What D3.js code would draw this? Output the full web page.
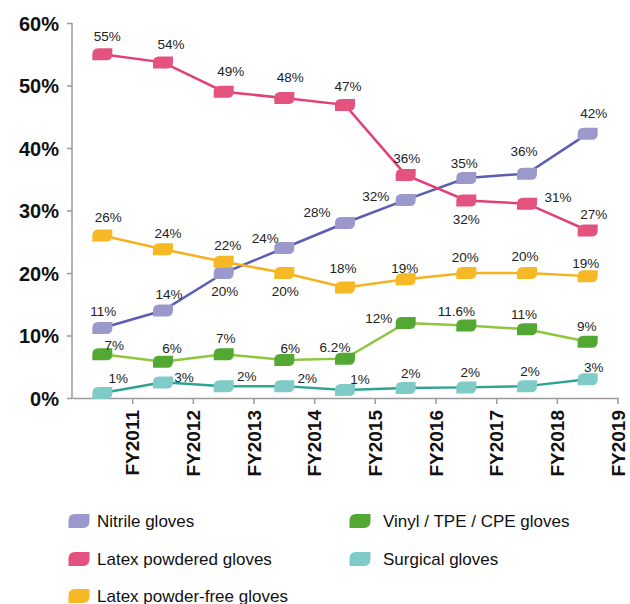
<!DOCTYPE html>
<html><head><meta charset="utf-8">
<script src="https://cdn.jsdelivr.net/npm/d3@7"></script>
<style>body{margin:0;background:#fff}svg{display:block;font-family:"Liberation Sans",Arial,sans-serif}</style>
</head><body><svg id="c" width="630" height="604"></svg>
<script>
const years = ["FY2011","FY2012","FY2013","FY2014","FY2015","FY2016","FY2017","FY2018","FY2019"];
const yTicks = [0,10,20,30,40,50,60];
const seriesNames = ["Nitrile gloves","Latex powdered gloves","Latex powder-free gloves","Vinyl / TPE / CPE gloves","Surgical gloves"];
const nitrile = [11.2,14,20,24,28,31.7,35.2,35.9,42.3];
const latexPowdered = [55,53.7,49,48,46.9,35.7,31.6,31.1,26.8];
const latexPowderFree = [26,23.8,21.8,20,17.7,19,20,20,19.5];
const vinyl = [7,5.8,7,6.1,6.3,12,11.6,11,9];
const surgical = [0.8,2.5,1.9,1.9,1.3,1.6,1.7,1.9,3];
const nitrileLabels = ["11%","14%","20%","24%","28%","32%","35%","36%","42%"];
const latexPowderedLabels = ["55%","54%","49%","48%","47%","36%","32%","31%","27%"];
const latexPowderFreeLabels = ["26%","24%","22%","20%","18%","19%","20%","20%","19%"];
const vinylLabels = ["7%","6%","7%","6%","6.2%","12%","11.6%","11%","9%"];
const surgicalLabels = ["1%","3%","2%","2%","1%","2%","2%","2%","3%"];

// layout: label offsets relative to marker [dx, dy]
const offsets = {
  nitrile: [[1,-17],[6,-16],[1,18],[-19,-10],[-28,-11],[-30,-4],[-2,-15],[-3,-22],[6,-20]],
  latexPowdered: [[5,-18],[8,-18],[7,-20],[6,-21],[3,-19],[1,-17],[0,19],[31,-6],[6,-16]],
  latexPowderFree: [[6,-18],[5,-16],[4,-16],[1,18],[-2,-19],[-1,-11],[-1,-16],[-2,-17],[-2,-13]],
  vinyl: [[12,-9],[9,-13],[2,-16],[6,-12],[-10,-11],[-27,-5],[-10,-14],[-3,-15],[-1,-15]],
  surgical: [[16,-15],[21,-5],[23,-10],[23,-8],[15,-11],[5,-15],[4,-15],[3,-15],[6,-12]]
};

const series = [
  {key:"nitrile", name:seriesNames[0], values:nitrile, labels:nitrileLabels, marker:"#9b98cb", line:"#5a5db2"},
  {key:"latexPowdered", name:seriesNames[1], values:latexPowdered, labels:latexPowderedLabels, marker:"#e4527f", line:"#e2407a"},
  {key:"latexPowderFree", name:seriesNames[2], values:latexPowderFree, labels:latexPowderFreeLabels, marker:"#f6b824", line:"#f5b21f"},
  {key:"vinyl", name:seriesNames[3], values:vinyl, labels:vinylLabels, marker:"#53a833", line:"#8dc63f"},
  {key:"surgical", name:seriesNames[4], values:surgical, labels:surgicalLabels, marker:"#7fcbc8", line:"#2ea394"}
];

const svg = d3.select("#c");
const x0 = 72, x1 = 618, yTop = 23, yBot = 398;
const x = d3.scaleBand().domain(years).range([x0, x1]);
const y = d3.scaleLinear().domain([0,60]).range([yBot, yTop]);
const cx = d => x(d) + x.bandwidth()/2;

// axes
const yAxis = svg.append("g").attr("transform",`translate(${x0},0)`)
  .call(d3.axisLeft(y).tickValues(yTicks).tickSize(5).tickFormat(d=>d+"%"));
yAxis.select(".domain").attr("stroke","#9a9a9a").attr("stroke-width",1.5).attr("d",`M0,${yTop}V${yBot}`);
yAxis.selectAll(".tick line").attr("stroke","#9a9a9a").attr("stroke-width",1.5);
yAxis.selectAll(".tick text").attr("font-size",20).attr("font-weight","bold").attr("fill","#111").attr("x",-13).attr("dy","0.35em");

const xAxis = svg.append("g").attr("transform",`translate(0,${yBot})`)
  .call(d3.axisBottom(x).tickSize(6).tickSizeOuter(0));
xAxis.select(".domain").attr("stroke","#9a9a9a").attr("stroke-width",1.5);
xAxis.selectAll(".tick").attr("transform", d => `translate(${x(d)+x.bandwidth()},0)`);
xAxis.selectAll(".tick line").attr("stroke","#9a9a9a").attr("stroke-width",1.5);
xAxis.selectAll(".tick text").attr("font-size",19).attr("font-weight","bold").attr("fill","#111")
  .attr("transform","rotate(-90)").attr("text-anchor","end").attr("x",-12).attr("y",0).attr("dy","0.35em");

const leaf = "M-10,6L-10,0Q-10,-6,-4,-6L10,-6L10,0Q10,6,4,6Z";

const line = d3.line().x((d,i)=>cx(years[i])).y(d=>y(d));
series.forEach(s=>{
  svg.append("path").attr("d",line(s.values)).attr("fill","none").attr("stroke",s.line).attr("stroke-width",2.5);
});
series.forEach(s=>{
  const g = svg.append("g");
  g.selectAll("path").data(s.values).join("path").attr("d",leaf)
    .attr("transform",(d,i)=>`translate(${cx(years[i])},${y(d)})`).attr("fill",s.marker);
  g.selectAll("text").data(s.values).join("text")
    .attr("x",(d,i)=>cx(years[i])+offsets[s.key][i][0])
    .attr("y",(d,i)=>y(d)+offsets[s.key][i][1])
    .attr("dy","0.35em").attr("text-anchor","middle").attr("font-size",13.5).attr("fill","#222")
    .text((d,i)=>s.labels[i]);
});

// legend
const legendPos = [[79,521],[79,559],[79,596],[360,521],[360,559]];
series.forEach((s,i)=>{
  const [lx,ly] = legendPos[i];
  svg.append("path").attr("d",leaf).attr("transform",`translate(${lx},${ly}) scale(1.05,1.15)`).attr("fill",s.marker);
  svg.append("text").attr("x",lx+(i>2?23:18)).attr("y",ly).attr("dy","0.35em").attr("font-size",17).attr("fill","#111").text(s.name);
});
</script></body></html>
